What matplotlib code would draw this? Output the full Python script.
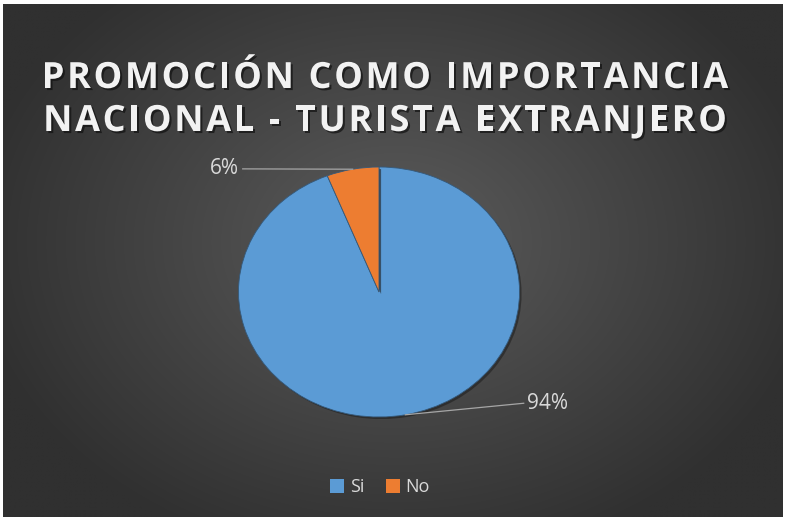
import numpy as np
import matplotlib
matplotlib.use("Agg")
import matplotlib.pyplot as plt
import matplotlib.patheffects as pe
from matplotlib.patches import Patch
from matplotlib.font_manager import FontProperties, findfont
from matplotlib.ft2font import FT2Font

categories = ["Si", "No"]
values = [94, 6]
colors = ["#5B9BD5", "#ED7D31"]
title_lines = ["PROMOCIÓN COMO IMPORTANCIA", "NACIONAL - TURISTA EXTRANJERO"]

W, H = 785, 518
DPI = 100
fig = plt.figure(figsize=(W / DPI, H / DPI), dpi=DPI, facecolor="white")

# dark radial-gradient chart area
bg = fig.add_axes([3 / W, 1 / H, (W - 5) / W, (H - 5) / H])
bg.set_axis_off()
yy, xx = np.mgrid[0:H, 0:W]
cx, cy = 395, 240
r = np.sqrt(((xx - cx) / 430.0) ** 2 + ((yy - cy) / 330.0) ** 2)
inner = np.array([0x5c, 0x5c, 0x5c]) / 255
outer = np.array([0x30, 0x30, 0x30]) / 255
t = np.clip(r, 0, 1)[..., None]
img = inner * (1 - t) + outer * t
bg.imshow(img, aspect="auto", extent=[0, 1, 0, 1], interpolation="bilinear")
bg.set_xlim(0, 1)
bg.set_ylim(0, 1)

# elliptical pie
pcx, pcy, rx, ry = 379, 292, 140.5, 125
ax = fig.add_axes([(pcx - rx) / W, (H - pcy - ry) / H, 2 * rx / W, 2 * ry / H])
ax.set_axis_off()
wedges, _ = ax.pie(values, colors=colors, startangle=90, counterclock=False,
                   radius=1.0, wedgeprops=dict(edgecolor="#35597a", linewidth=0.6))
ax.set_aspect("auto")
ax.set_xlim(-1, 1)
ax.set_ylim(-1, 1)
for w in wedges:
    w.set_path_effects([pe.SimplePatchShadow(offset=(1.5, -1.5), shadow_rgbFace="#202020", alpha=0.6),
                        pe.Normal()])

# percentage labels with leader lines
total = sum(values)
label_pos = {0: (1.03, -0.89), 1: (-0.97, 0.985)}
start = 90.0
for i, v in enumerate(values):
    span = 360.0 * v / total
    mid = np.deg2rad(start - span / 2)
    start -= span
    px, py = np.cos(mid), np.sin(mid)
    lx, ly = label_pos[i]
    ax.plot([px, lx], [py, ly], color="#a6a6a6", lw=0.9, clip_on=False)
    ha = "left" if lx > 0 else "right"
    ax.text(lx + (0.02 if lx > 0 else -0.03), ly, f"{v}%", ha=ha, va="center",
            color="#d9d9d9", fontsize=15, family="Open Sans", clip_on=False)

# letter-spaced title, placed glyph by glyph
tsize = 26
tprop = FontProperties(family="Open Sans", weight="bold", size=tsize)
ft = FT2Font(findfont(tprop))
ft.set_size(tsize, DPI)


def advances(s):
    return [ft.load_char(ord(c)).linearHoriAdvance / 65536.0 for c in s]


adv1 = advances(title_lines[0])
tracking = (684 - sum(adv1[:-1]) - adv1[-1] * 0.9) / (len(title_lines[0]) - 1)
shadow = [pe.withSimplePatchShadow(offset=(1.5, -1.5), shadow_rgbFace="#111111", alpha=0.7)]
for line, base_y in zip(title_lines, [88, 131]):
    adv = advances(line)
    total_w = sum(adv) + tracking * (len(line) - 1)
    x = 385 - total_w / 2
    for c, a in zip(line, adv):
        if c != " ":
            fig.text(x / W, 1 - base_y / H, c, ha="left", va="baseline", color="#f2f2f2",
                     fontproperties=tprop, path_effects=shadow)
        x += a + tracking

# legend
handles = [Patch(facecolor=c, edgecolor="none") for c in colors]
fig.legend(handles, categories, loc="center", bbox_to_anchor=(380 / W, 1 - 487 / H),
           ncol=2, frameon=False, labelcolor="#d9d9d9",
           handlelength=0.8, handleheight=0.8, handletextpad=0.3, columnspacing=1.2,
           prop=dict(family="Open Sans", size=13))

fig.savefig("out.png", dpi=DPI, facecolor="white")
